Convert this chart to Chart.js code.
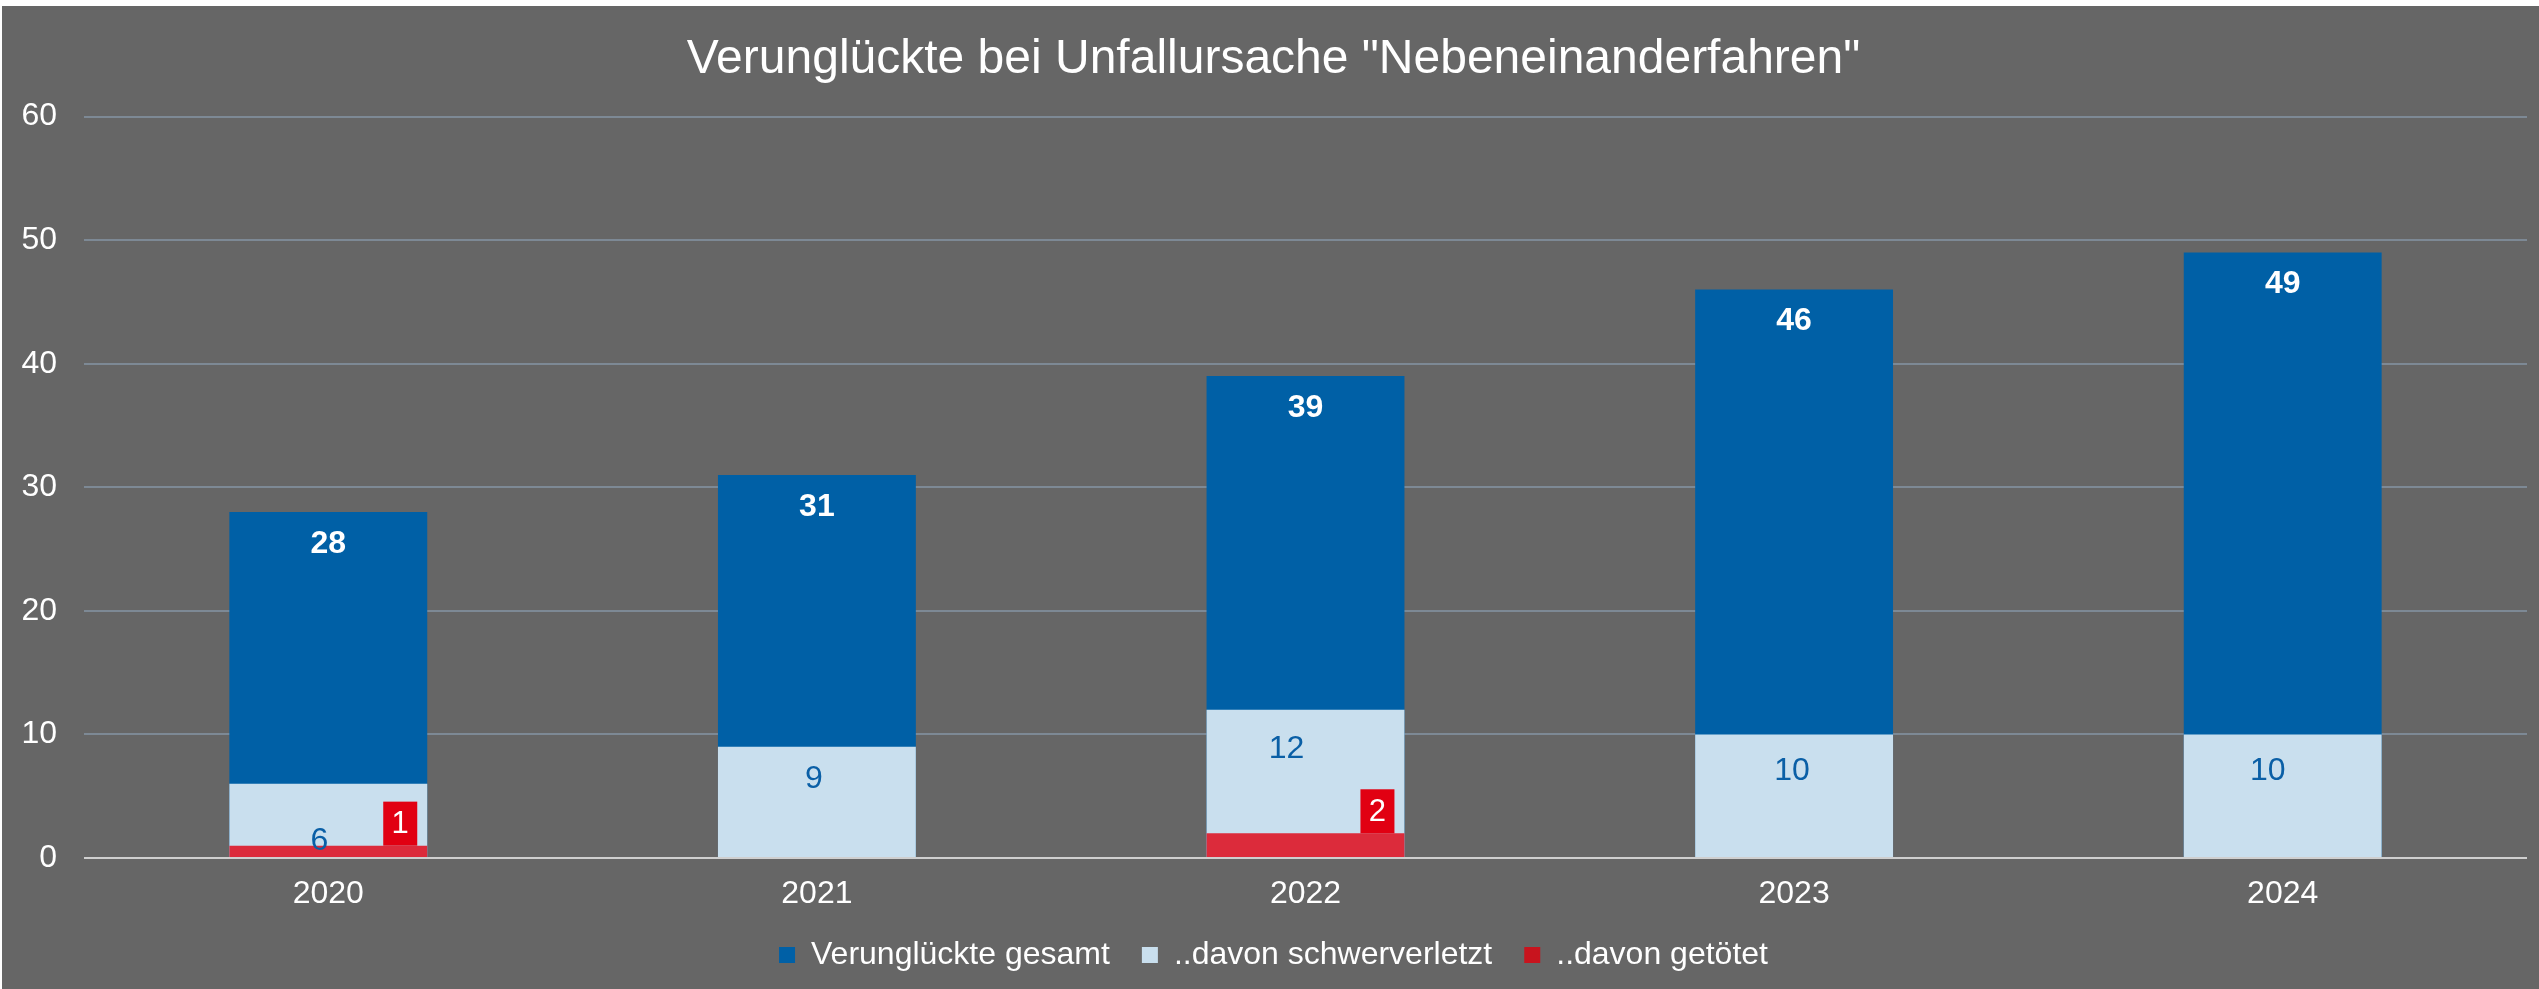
<!DOCTYPE html>
<html>
<head>
<meta charset="utf-8">
<script src="https://cdn.jsdelivr.net/npm/chart.js@4.4.1/dist/chart.umd.min.js"></script>
<style>
  html, body { margin: 0; padding: 0; background: #ffffff; }
  #wrap { position: absolute; left: 2px; top: 6px; width: 2537px; height: 983px; background: #666666; }
</style>
</head>
<body>
<div id="wrap"><canvas id="myChart" width="2537" height="983"></canvas></div>
<script>
const years = ['2020', '2021', '2022', '2023', '2024'];
const gesamt = [28, 31, 39, 46, 49];
const schwerverletzt = [6, 9, 12, 10, 10];
const getoetet = [1, 0, 2, 0, 0];
const seriesNames = ['Verunglückte gesamt', '..davon schwerverletzt', '..davon getötet'];
const yMin = 0;
const yMax = 60;
const yStep = 10;

const barColors = ['#0060a6', '#c9dfee', '#dc2b3b'];
const legendColors = ['#0060a6', '#c9dfee', '#c8141e'];
const FONT = '"Liberation Sans", Arial, sans-serif';

// labels drawn by hand: total on top, schwerverletzt inside, getötet in a red box
const barLabels = {
  id: 'barLabels',
  afterDatasetsDraw(chart, args, opts) {
    const ctx = chart.ctx;
    ctx.save();
    ctx.textAlign = 'center';
    ctx.textBaseline = 'middle';

    ctx.font = 'bold 32px ' + FONT;
    ctx.fillStyle = '#ffffff';
    chart.getDatasetMeta(0).data.forEach((bar, i) => {
      ctx.fillText(String(gesamt[i]), bar.x, bar.y + 32);
    });

    ctx.font = '32px ' + FONT;
    ctx.fillStyle = '#0a5fa6';
    chart.getDatasetMeta(1).data.forEach((bar, i) => {
      const y = bar.base - (bar.base - bar.y) * opts.svLift[i];
      ctx.fillText(String(schwerverletzt[i]), bar.x + opts.svShift[i], y);
    });

    ctx.font = '31px ' + FONT;
    chart.getDatasetMeta(2).data.forEach((bar, i) => {
      if (!getoetet[i]) return;
      const right = bar.x + bar.width / 2 - 10;
      ctx.fillStyle = '#e10012';
      ctx.fillRect(right - 34, bar.y - 44, 34, 44);
      ctx.fillStyle = '#ffffff';
      ctx.fillText(String(getoetet[i]), right - 17, bar.y - 21);
    });
    ctx.restore();
  }
};

const data = {
  labels: years,
  datasets: [
    { label: seriesNames[0], data: gesamt, backgroundColor: barColors[0], order: 3 },
    { label: seriesNames[1], data: schwerverletzt, backgroundColor: barColors[1], order: 2 },
    { label: seriesNames[2], data: getoetet, backgroundColor: barColors[2], order: 1 }
  ]
};

const config = {
  type: 'bar',
  data: data,
  plugins: [barLabels],
  options: {
    responsive: false,
    animation: false,
    datasets: {
      bar: {
        grouped: false,
        barPercentage: 0.405,
        categoryPercentage: 1,
        borderWidth: 0
      }
    },
    layout: {
      padding: { left: 18, right: 12, top: 0, bottom: 8 }
    },
    scales: {
      x: {
        grid: { display: false, drawTicks: false },
        border: { display: false },
        afterFit: (scale) => { scale.height = 49; },
        ticks: {
          color: '#ffffff',
          padding: 17,
          font: { family: FONT, size: 32 }
        }
      },
      y: {
        min: yMin,
        max: yMax,
        border: { display: false },
        afterFit: (scale) => { scale.width = 64; },
        grid: {
          drawTicks: false,
          lineWidth: 2,
          color: (c) => c.tick && c.tick.value === 0 ? '#cfcfcf' : '#7d8995'
        },
        ticks: {
          stepSize: yStep,
          color: '#ffffff',
          padding: 27,
          font: { family: FONT, size: 32 }
        }
      }
    },
    plugins: {
      title: {
        display: true,
        text: 'Verunglückte bei Unfallursache "Nebeneinanderfahren"',
        color: '#ffffff',
        font: { family: FONT, size: 48, weight: 'normal', lineHeight: 1.2 },
        padding: { top: 25, bottom: 28 }
      },
      legend: {
        display: true,
        position: 'bottom',
        labels: {
          color: '#ffffff',
          boxWidth: 16,
          boxHeight: 16,
          padding: 32,
          font: { family: FONT, size: 32 },
          sort: (a, b) => a.datasetIndex - b.datasetIndex,
          generateLabels(chart) {
            const items = Chart.defaults.plugins.legend.labels.generateLabels(chart);
            items.forEach((it) => {
              it.fillStyle = legendColors[it.datasetIndex];
              it.strokeStyle = legendColors[it.datasetIndex];
              it.lineWidth = 0;
            });
            return items;
          }
        }
      },
      tooltip: { enabled: false },
      barLabels: {
        svLift: [0.22, 0.71, 0.73, 0.7, 0.7],
        svShift: [-9, -3, -19, -2, -15]
      }
    }
  }
};

var myChart = new Chart(document.getElementById('myChart'), config);
</script>
</body>
</html>
